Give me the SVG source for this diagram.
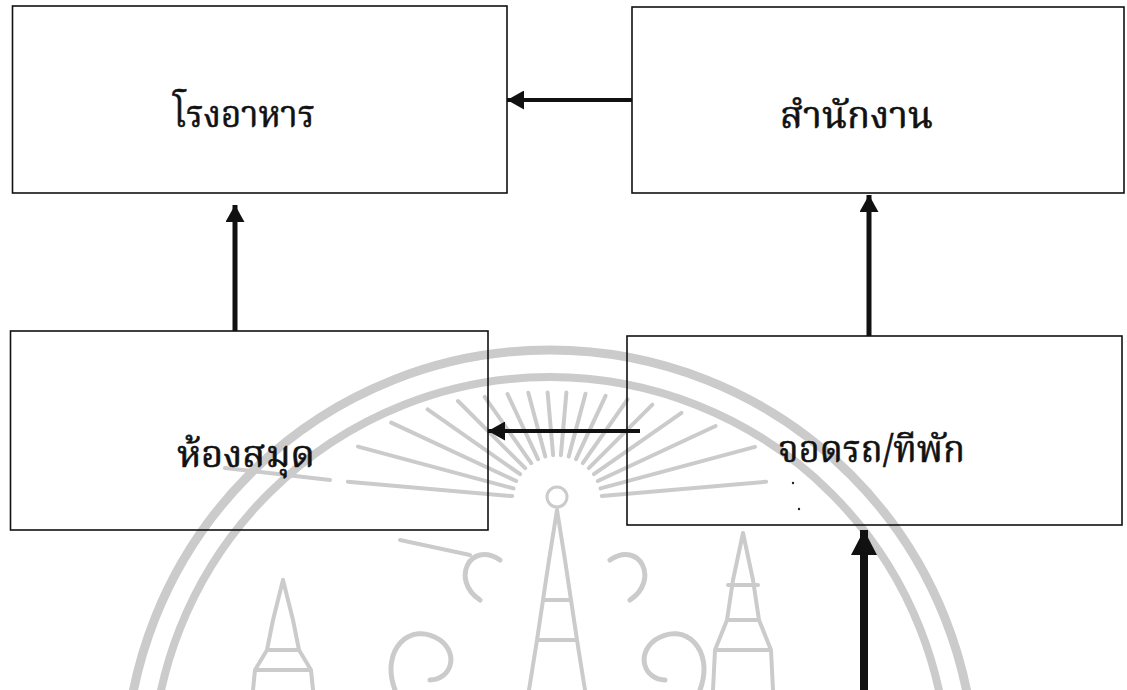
<svg xmlns="http://www.w3.org/2000/svg" width="1127" height="690" viewBox="0 0 1127 690">
<defs>
<style>
.box{fill:none;stroke:#111;stroke-width:1.6}
.lbl{font-family:"Noto Serif Thai","Noto Sans Thai","Norasi","Loma","Garuda","DejaVu Sans",sans-serif;font-size:38px;fill:#111;stroke:#111;stroke-width:0.6}
.wm{fill:none;stroke:#cbcbcb;stroke-linecap:round;stroke-linejoin:round}
.ray{stroke-width:4}
.conn{stroke:#111;fill:none}
</style>
<marker id="ah" markerUnits="userSpaceOnUse" viewBox="0 0 17 19" refX="17" refY="9.5" markerWidth="17" markerHeight="19" orient="auto">
<path d="M0,0 L17,9.5 L0,19 Z" fill="#111"/>
</marker>
<marker id="ahBig" markerUnits="userSpaceOnUse" viewBox="0 0 25 26" refX="25" refY="13" markerWidth="25" markerHeight="26" orient="auto">
<path d="M0,0 L25,13 L0,26 Z" fill="#111"/>
</marker>
</defs>
<rect width="1127" height="690" fill="#fff"/>
<g id="watermark" class="wm">
<circle cx="550" cy="775" r="425" stroke-width="9"/>
<circle cx="550" cy="775" r="398" stroke-width="8"/>
<g class="ray">
<line x1="601.8" y1="496.1" x2="766.2" y2="481.7"/>
<line x1="600.5" y1="488.4" x2="755.0" y2="446.9"/>
<line x1="597.8" y1="481.0" x2="715.6" y2="426.0"/>
<line x1="593.9" y1="474.2" x2="681.5" y2="412.8"/>
<line x1="588.8" y1="468.2" x2="652.4" y2="404.6"/>
<line x1="582.8" y1="463.1" x2="627.6" y2="399.3"/>
<line x1="576.0" y1="459.2" x2="605.6" y2="395.8"/>
<line x1="568.7" y1="456.5" x2="585.5" y2="393.7"/>
<line x1="560.9" y1="455.2" x2="566.4" y2="392.4"/>
<line x1="553.1" y1="455.2" x2="547.6" y2="392.4"/>
<line x1="545.3" y1="456.5" x2="528.3" y2="392.8"/>
<line x1="538.0" y1="459.2" x2="507.5" y2="394.0"/>
<line x1="531.2" y1="463.1" x2="484.7" y2="396.8"/>
<line x1="525.2" y1="468.2" x2="458.0" y2="401.0"/>
<line x1="520.1" y1="474.2" x2="427.6" y2="409.3"/>
<line x1="516.2" y1="481.0" x2="391.2" y2="422.6"/>
<line x1="513.5" y1="488.4" x2="358.0" y2="446.6"/>
<line x1="512.2" y1="496.1" x2="347.8" y2="481.7"/>
<line x1="330" y1="480" x2="225" y2="468"/>
<line x1="470" y1="555" x2="400" y2="540"/>
</g>
<circle cx="557" cy="497" r="10" stroke-width="3"/>
<path d="M557,510 L549,560 L543,600 L537,640 L529,690 M557,510 L565,560 L571,600 L577,640 L585,690 M543,600 L571,600 M537,640 L577,640" stroke-width="4"/>
<path d="M743,533 L733,580 L727,620 L715,650 L713,690 M743,533 L753,580 L759,620 L771,650 L773,690 M727,620 L759,620 M715,650 L771,650 M728,585 L758,585" stroke-width="4"/>
<path d="M283,580 L273,620 L267,650 L255,670 L253,690 M283,580 L293,620 L299,650 L311,670 L313,690 M267,650 L299,650 M255,670 L311,670" stroke-width="4"/>
<path d="M395,690 C380,650 410,620 440,640 C460,655 450,680 430,680 M480,600 C450,580 470,540 500,560 M700,690 C715,650 685,620 655,640 C635,655 645,680 665,680 M630,600 C660,580 640,540 610,560" stroke-width="5"/>
</g>
<g id="connectors">
<line class="conn" x1="632" y1="100" x2="507" y2="100" stroke-width="4" marker-end="url(#ah)"/>
<line class="conn" x1="235" y1="331" x2="235" y2="205" stroke-width="5" marker-end="url(#ah)"/>
<line class="conn" x1="869" y1="336" x2="869" y2="195" stroke-width="5" marker-end="url(#ah)"/>
<line class="conn" x1="640" y1="431" x2="488" y2="431" stroke-width="4" marker-end="url(#ah)"/>
<line class="conn" x1="864" y1="690" x2="864" y2="530" stroke-width="8" marker-end="url(#ahBig)"/>
</g>
<g id="node-canteen">
<rect class="box" x="12.5" y="6" width="494.5" height="187"/>
<text class="lbl" x="173" y="127" textLength="142" lengthAdjust="spacingAndGlyphs">โรงอาหาร</text>
</g>
<g id="node-office">
<rect class="box" x="632" y="7" width="492" height="186"/>
<text class="lbl" x="780" y="128" textLength="153" lengthAdjust="spacingAndGlyphs">สำนักงาน</text>
</g>
<g id="node-library">
<rect class="box" x="10.5" y="331" width="477.5" height="199"/>
<text class="lbl" x="177" y="467" textLength="138" lengthAdjust="spacingAndGlyphs">ห้องสมุด</text>
</g>
<g id="node-parking">
<rect class="box" x="627" y="336" width="495" height="189"/>
<text class="lbl" x="778" y="462" textLength="187" lengthAdjust="spacingAndGlyphs">จอดรถ/ทีพัก</text>
<circle cx="793" cy="483" r="1.2" fill="#222"/>
<circle cx="799" cy="509" r="1.2" fill="#222"/>
</g>
</svg>
